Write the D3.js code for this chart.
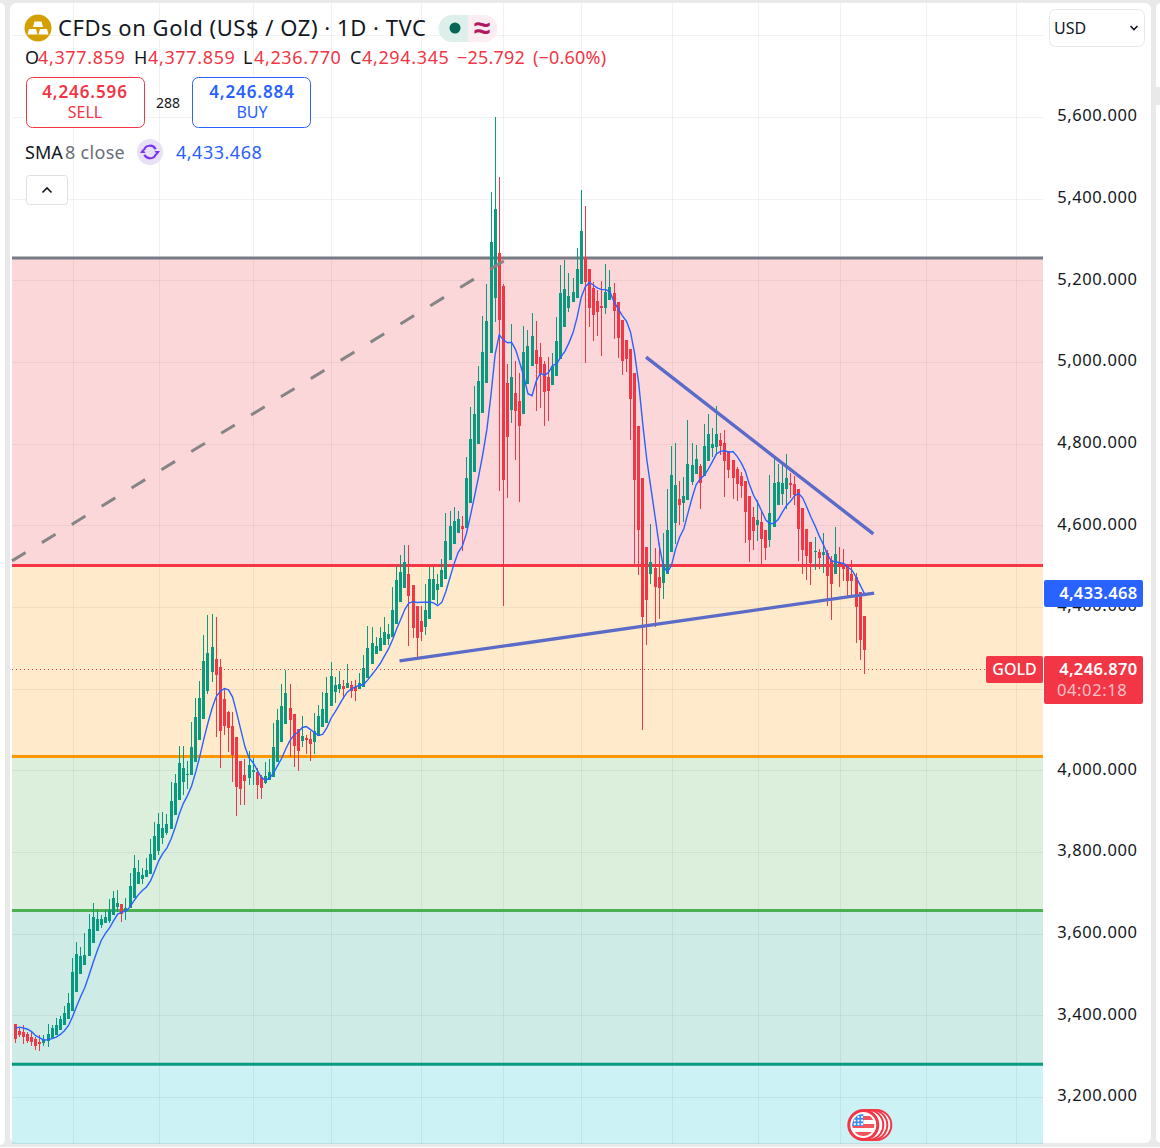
<!DOCTYPE html>
<html>
<head>
<meta charset="utf-8">
<style>
  html, body { margin: 0; padding: 0; background: #e9e9ea; overflow: hidden; }
  svg { display: block; }
  text { font-family: "Noto Sans", sans-serif; }
</style>
<script src="https://cdnjs.cloudflare.com/ajax/libs/d3/7.8.5/d3.min.js"></script>
</head>
<body>
<svg id="chart" width="1160" height="1148"></svg>
<script>
// Daily gold candles, oldest first.
const opens = [
  3379,3362,3359,3354,3347,3342,3335,3333,3336,3344,
  3353,3364,3376,3391,3411,3458,3501,3523,3545,3578,
  3606,3621,3626,3632,3646,3665,3673,3655,3662,3688,
  3722,3734,3739,3746,3780,3802,3834,3846,3856,3891,
  3927,3971,3988,3988,4020,4074,4126,4194,4241,4272,
  4253,4175,4143,4108,4082,4023,3989,3981,3996,3996,
  3984,3969,3976,3984,4020,4069,4113,4153,4138,4101,
  4072,4079,4077,4069,4084,4106,4116,4157,4192,4199,
  4206,4202,4209,4204,4199,4204,4226,4260,4285,4292,
  4307,4322,4327,4358,4412,4447,4481,4454,4402,4366,
  4351,4371,4417,4442,4449,4469,4515,4554,4581,4598,
  4593,4655,4731,4799,4875,4949,5022,5157,5267,5186,
  4949,4882,4924,4904,4872,4946,4990,5029,5012,4995,
  4963,4944,4966,5007,5086,5132,5147,5157,5191,5257,
  5228,5181,5149,5137,5132,5152,5169,5147,5103,5054,
  5032,4973,4843,4716,4547,4481,4496,4474,4459,4481,
  4535,4606,4665,4655,4662,4706,4726,4745,4721,4758,
  4790,4792,4809,4802,4782,4760,4738,4721,4709,4672,
  4620,4601,4608,4589,4564,4596,4650,4677,4689,4704,
  4701,4689,4642,4591,4559,4535,4535,4527,4532,4515,
  4481,4510,4505,4503,4481,4474,4437,4377.859
];
const highs = [
  3379,3372,3376,3360,3360,3346,3352,3352,3379,3376,
  3393,3398,3423,3454,3540,3579,3568,3601,3647,3675,
  3658,3646,3658,3684,3704,3707,3673,3687,3749,3793,
  3780,3762,3785,3833,3873,3895,3898,3893,3971,3992,
  4060,4060,4023,4118,4177,4219,4331,4380,4383,4375,
  4272,4201,4145,4144,4082,4023,4028,4047,4030,4006,
  3989,4020,4028,4116,4150,4211,4246,4211,4138,4101,
  4133,4086,4096,4140,4160,4192,4228,4265,4228,4243,
  4221,4260,4219,4221,4238,4282,4353,4351,4327,4351,
  4375,4358,4449,4500,4527,4552,4552,4454,4402,4402,
  4456,4498,4499,4481,4518,4630,4635,4645,4635,4623,
  4767,4890,4941,4990,5113,5191,5416,5600,5453,5190,
  4995,5093,5002,4973,5088,5078,5120,5100,5046,5002,
  5012,5022,5110,5237,5250,5218,5206,5279,5421,5382,
  5228,5196,5176,5198,5240,5225,5193,5147,5103,5054,
  5032,4973,4843,4716,4547,4603,4545,4557,4581,4689,
  4794,4802,4709,4718,4858,4802,4797,4750,4848,4873,
  4838,4892,4826,4834,4782,4760,4743,4731,4709,4672,
  4646,4662,4638,4589,4723,4765,4750,4753,4775,4728,
  4721,4689,4642,4591,4559,4571,4542,4581,4540,4525,
  4596,4547,4542,4503,4515,4483,4437,4377.859
];
const lows = [
  3333,3346,3330,3333,3326,3315,3313,3326,3323,3344,
  3353,3364,3376,3391,3411,3458,3501,3523,3545,3578,
  3606,3615,3626,3627,3646,3654,3629,3633,3662,3688,
  3722,3722,3739,3746,3780,3793,3820,3842,3856,3891,
  3927,3939,3954,3988,4020,4074,4126,4187,4217,4081,
  4006,4086,4045,3971,3888,3915,3915,3964,3964,3930,
  3930,3967,3976,3984,4020,4069,4113,4033,4008,3998,
  4057,4040,4023,4040,4084,4106,4116,4157,4165,4189,
  4175,4202,4177,4170,4199,4204,4226,4260,4285,4292,
  4307,4307,4327,4358,4412,4447,4304,4324,4275,4317,
  4331,4371,4417,4407,4449,4469,4515,4554,4581,4537,
  4593,4655,4731,4799,4875,4949,5022,5098,4684,4403,
  4667,4851,4760,4657,4872,4946,4990,4880,4887,4843,
  4856,4944,4966,5007,5086,5122,5147,5157,5191,4997,
  5086,5051,5063,5015,5117,5152,5056,5010,4968,4975,
  4809,4505,4478,4099,4307,4456,4351,4371,4420,4481,
  4535,4554,4601,4608,4662,4699,4726,4640,4721,4758,
  4767,4772,4772,4670,4716,4665,4660,4667,4557,4510,
  4540,4562,4505,4515,4547,4596,4650,4650,4640,4667,
  4650,4513,4481,4466,4454,4491,4493,4483,4402,4368,
  4481,4449,4464,4427,4427,4312,4270,4236.77
];
const closes = [
  3342,3352,3347,3337,3335,3326,3331,3343,3354,3370,
  3376,3391,3406,3430,3506,3550,3545,3547,3611,3641,
  3636,3636,3641,3658,3687,3675,3648,3663,3717,3761,
  3751,3744,3756,3795,3839,3869,3859,3869,3925,3969,
  4018,4006,3990,4057,4130,4177,4268,4287,4302,4233,
  4096,4109,4103,4037,3959,3954,3974,4013,4001,3964,
  3957,3986,3996,4057,4123,4157,4189,4123,4060,4047,
  4084,4074,4064,4096,4133,4150,4189,4231,4209,4211,
  4199,4214,4194,4194,4214,4251,4300,4312,4304,4324,
  4339,4334,4393,4466,4486,4510,4427,4349,4324,4339,
  4393,4469,4469,4456,4491,4562,4598,4611,4615,4591,
  4716,4811,4873,4954,5024,5100,5294,5375,5103,4711,
  4816,4963,4880,4843,5024,5039,5064,4995,4970,4926,
  4929,4990,5051,5169,5179,5161,5171,5228,5321,5196,
  5132,5115,5122,5132,5171,5184,5125,5059,5002,5007,
  4909,4711,4589,4376,4417,4510,4449,4447,4505,4589,
  4723,4699,4650,4672,4750,4748,4763,4704,4794,4824,
  4799,4824,4794,4758,4736,4716,4701,4696,4633,4564,
  4586,4613,4567,4544,4630,4704,4706,4704,4716,4699,
  4674,4591,4540,4525,4508,4537,4520,4535,4476,4456,
  4530,4505,4493,4463,4463,4399.262,4320.137,4294.345
];
// Seven closes before the first candle seed the moving average.
const seedCloses = [3328,3363,3361,3383,3406,3371,3390];

const smaLength = 8;
// 4,200 sits behind the last-price tag, so it gets a grid line but no label.
const priceTicks = [3200,3400,3600,3800,4000,4400,4600,4800,5000,5200,5400,5600];
const gridPrices = [3200,3400,3600,3800,4000,4200,4400,4600,4800,5000,5200,5400,5600,5800];
const gridBars = [14,35,58,77,99,119,138,160,181,201,222,244];

// Horizontal levels, top to bottom, and the bands between them.
const levelPrices = [5255,4501.6,4034,3657,3280];
const levelColors = ["#787b86","#f23645","#ff9800","#4caf50","#089981"];
const bandColors = ["#f23645","#ff9800","#4caf50","#089981","#00bcd4"];

// Hand-drawn lines as [bar, price] pairs.
const risingTrend = [[93.7,4268],[209.4,4434]];
const fallingTrend = [[153.8,5012],[209.2,4579]];
const dashedTrend = [[-0.78,4513],[119.5,5250]];

const title = "CFDs on Gold (US$ / OZ) · 1D · TVC";
const sellPrice = 4246.596, buyPrice = 4246.884, spread = "288";
const changeAbs = "−25.792", changePct = "(−0.60%)";
const lastPrice = 4246.87, countdown = "04:02:18";

const red = "#f23645", green = "#089981", blue = "#2962ff", ink = "#131722";
const paneLeft = 12, paneRight = 1043, paneTop = 3, paneBottom = 1144;
const fmt = d3.format(",.3f");

const x = d3.scaleLinear().domain([0, 207]).range([15.2, 864.3]);
const y = d3.scaleLinear().domain([3200, 5600]).range([1097, 117]);

const svg = d3.select("#chart");

// Panels behind the chart
svg.append("rect").attr("x", -8).attr("y", 3).attr("width", 13).attr("height", 1142).attr("rx", 5).attr("fill", "#fff");
svg.append("rect").attr("x", 10).attr("y", 3).attr("width", 1141).attr("height", 1140).attr("rx", 6).attr("fill", "#fff");
svg.append("rect").attr("x", 1156).attr("y", 3).attr("width", 12).attr("height", 1140).attr("rx", 5).attr("fill", "#fff");
svg.append("rect").attr("x", 1156).attr("y", 87).attr("width", 4).attr("height", 18).attr("fill", "#e9e9ea");
svg.append("rect").attr("x", 0).attr("y", 1147).attr("width", 1160).attr("height", 1).attr("fill", "#fff");

// Bands
const bandEdges = [...levelPrices, null];
svg.append("g").selectAll("rect").data(bandColors).join("rect")
  .attr("x", paneLeft).attr("width", paneRight - paneLeft)
  .attr("y", (d, i) => y(levelPrices[i]))
  .attr("height", (d, i) => (bandEdges[i + 1] === null ? paneBottom : y(bandEdges[i + 1])) - y(levelPrices[i]))
  .attr("fill", d => d).attr("fill-opacity", 0.2);

// Grid
const grid = svg.append("g").attr("stroke", "#000").attr("stroke-opacity", 0.055).attr("shape-rendering", "crispEdges");
grid.selectAll("line.h").data(gridPrices).join("line").attr("class", "h")
  .attr("x1", paneLeft).attr("x2", paneRight)
  .attr("y1", d => Math.round(y(d)) + 0.5).attr("y2", d => Math.round(y(d)) + 0.5);
grid.selectAll("line.v").data(gridBars).join("line").attr("class", "v")
  .attr("y1", paneTop).attr("y2", paneBottom)
  .attr("x1", d => Math.round(x(d)) + 0.5).attr("x2", d => Math.round(x(d)) + 0.5);

// Level lines
svg.append("g").selectAll("line").data(levelPrices).join("line")
  .attr("x1", paneLeft).attr("x2", paneRight)
  .attr("y1", d => y(d)).attr("y2", d => y(d))
  .attr("stroke", (d, i) => levelColors[i]).attr("stroke-width", 3);

// Last price dotted line
svg.append("line").attr("x1", paneLeft).attr("x2", 986)
  .attr("y1", y(lastPrice)).attr("y2", y(lastPrice))
  .attr("stroke", red).attr("stroke-width", 1).attr("stroke-dasharray", "1 3");

// Candles
const bars = d3.range(opens.length).map(i => ({ i, o: opens[i], h: highs[i], l: lows[i], c: closes[i] }));
const candles = svg.append("g").attr("shape-rendering", "crispEdges");
candles.selectAll("rect.wick").data(bars).join("rect").attr("class", "wick")
  .attr("x", d => Math.floor(x(d.i)))
  .attr("width", 1)
  .attr("y", d => y(d.h))
  .attr("height", d => y(d.l) - y(d.h))
  .attr("fill", d => d.c >= d.o ? green : red);
candles.selectAll("rect.body").data(bars).join("rect").attr("class", "body")
  .attr("x", d => Math.floor(x(d.i)) - 1)
  .attr("width", 3)
  .attr("y", d => y(Math.max(d.o, d.c)))
  .attr("height", d => Math.max(1, Math.abs(y(d.o) - y(d.c))))
  .attr("fill", d => d.c >= d.o ? green : red);

// Moving average of closes
const allCloses = [...seedCloses, ...closes];
const sma = closes.map((_, i) => d3.mean(allCloses.slice(i, i + smaLength)));
const smaNow = sma[sma.length - 1];
const smaLine = d3.line().x((d, i) => x(i)).y(d => y(d));
svg.append("path").attr("d", smaLine(sma)).attr("fill", "none").attr("stroke", blue).attr("stroke-width", 1.4);

// Trend lines
const trend = d3.line().x(d => x(d[0])).y(d => y(d[1]));
svg.append("path").attr("d", trend(risingTrend)).attr("stroke", "#5b6bc8").attr("stroke-width", 3.4).attr("fill", "none");
svg.append("path").attr("d", trend(fallingTrend)).attr("stroke", "#5b6bc8").attr("stroke-width", 3.4).attr("fill", "none");
svg.append("path").attr("d", trend(dashedTrend)).attr("stroke", "#858585").attr("stroke-width", 3)
  .attr("fill", "none").attr("stroke-dasharray", "16 19");

// Price axis
const axis = d3.axisRight(y).tickValues(priceTicks).tickFormat(fmt).tickSize(0).tickPadding(0);
const axisG = svg.append("g").attr("transform", "translate(1137.5,-1.5)").call(axis);
axisG.select(".domain").remove();
axisG.selectAll("text").attr("text-anchor", "end").attr("x", 0)
  .style("font-family", "'Noto Sans', sans-serif").style("font-size", "16.5px")
  .style("letter-spacing", "0.6px").attr("fill", ink);

function label(str, px, py, size, fill, opts = {}) {
  return svg.append("text").attr("x", px).attr("y", py).text(str)
    .attr("font-size", size).attr("fill", fill)
    .attr("text-anchor", opts.anchor || "start")
    .attr("font-weight", opts.weight || 400)
    .attr("letter-spacing", opts.spacing || 0);
}

// Price tags on the axis
svg.append("rect").attr("x", 1044).attr("y", 580).attr("width", 99).attr("height", 27).attr("rx", 2).attr("fill", blue);
label(fmt(smaNow), 1137.5, 599, 16.5, "#fff", { anchor: "end", weight: 600, spacing: 0.35 });
svg.append("rect").attr("x", 1044).attr("y", 656).attr("width", 99).attr("height", 48).attr("rx", 2).attr("fill", red);
label(fmt(lastPrice), 1137.5, 675, 16.5, "#fff", { anchor: "end", weight: 600, spacing: 0.35 });
label(countdown, 1057, 696, 16.5, "#fbc0c6", { spacing: 0.6 });
svg.append("rect").attr("x", 986).attr("y", 656).attr("width", 57).attr("height", 27).attr("rx", 2).attr("fill", red);
label("GOLD", 1014.5, 675, 16, "#fff", { anchor: "middle", weight: 500 });

// Symbol line
svg.append("circle").attr("cx", 38).attr("cy", 28).attr("r", 13.5).attr("fill", "#d49f00");
[[38, 21.5], [32.5, 29], [43.5, 29]].forEach(([cx, cy]) => {
  svg.append("path").attr("d", `M${cx - 3.5},${cy} h7 l1.5,5.5 h-10 z`).attr("fill", "#fff");
});
label(title, 58, 36, 22, ink, { spacing: 0.54 });
svg.append("path").attr("d", "M468,15 H452 a13.5,13.5 0 0 0 0,27 H468 z").attr("fill", "#dcefeb");
svg.append("path").attr("d", "M468,15 H484 a13.5,13.5 0 0 1 0,27 H468 z").attr("fill", "#fcedf3");
svg.append("circle").attr("cx", 455).attr("cy", 28).attr("r", 5.5).attr("fill", "#056656");
label("≈", 482, 38, 30, "#b0185f", { anchor: "middle", weight: 700 });

// OHLC line
const ohlcRow = 64, last = bars[bars.length - 1];
const rowOpts = { spacing: 0.65 };
label("O", 25, ohlcRow, 18, ink);
label(fmt(last.o), 38, ohlcRow, 18, red, rowOpts);
label("H", 134, ohlcRow, 18, ink);
label(fmt(last.h), 148, ohlcRow, 18, red, rowOpts);
label("L", 243, ohlcRow, 18, ink);
label(fmt(last.l), 254, ohlcRow, 18, red, rowOpts);
label("C", 350, ohlcRow, 18, ink);
label(fmt(last.c), 362, ohlcRow, 18, red, rowOpts);
label(changeAbs, 457, ohlcRow, 18, red, { spacing: 0.2 });
label(changePct, 533, ohlcRow, 18, red, { spacing: 0.2 });

// Sell and buy buttons
svg.append("rect").attr("x", 26.5).attr("y", 77.5).attr("width", 118).attr("height", 50).attr("rx", 6)
  .attr("fill", "#fff").attr("stroke", red);
label(fmt(sellPrice), 85, 98, 17, red, { anchor: "middle", weight: 600, spacing: 0.9 });
label("SELL", 85, 118, 16, red, { anchor: "middle" });
label(spread, 168, 108, 14, ink, { anchor: "middle" });
svg.append("rect").attr("x", 192.5).attr("y", 77.5).attr("width", 118).attr("height", 50).attr("rx", 6)
  .attr("fill", "#fff").attr("stroke", blue);
label(fmt(buyPrice), 252, 98, 17, blue, { anchor: "middle", weight: 600, spacing: 0.9 });
label("BUY", 252, 118, 16, blue, { anchor: "middle" });

// Indicator line
label("SMA", 25, 158.5, 18, ink);
label("8 close", 65, 158.5, 18, "#6a6d78", { spacing: 0.3 });
svg.append("circle").attr("cx", 150).attr("cy", 152).attr("r", 13).attr("fill", "#e8e1f5");
const arcG = d3.arc().innerRadius(5.2).outerRadius(7.4);
const syncIcon = svg.append("g").attr("transform", "translate(150,152)").attr("fill", "#7a35ec");
syncIcon.append("path").attr("d", arcG({ startAngle: -1.3, endAngle: 1.1 }));
syncIcon.append("path").attr("d", arcG({ startAngle: 1.85, endAngle: 4.25 }));
syncIcon.append("path").attr("d", "M4.5,-1 L10,-1 L7.2,3 z");
syncIcon.append("path").attr("d", "M-4.5,1 L-10,1 L-7.2,-3 z");
label(fmt(smaNow), 176, 158.5, 18, blue, { spacing: 0.5 });

// Collapse button
svg.append("rect").attr("x", 26.5).attr("y", 175.5).attr("width", 41).attr("height", 29).attr("rx", 3)
  .attr("fill", "#fff").attr("stroke", "#e0e0e0");
svg.append("path").attr("d", "M42.5,192.5 l4.5,-4.5 l4.5,4.5").attr("fill", "none").attr("stroke", ink).attr("stroke-width", 1.6);

// Currency selector
svg.append("rect").attr("x", 1049.5).attr("y", 9.5).attr("width", 95).attr("height", 37).attr("rx", 6)
  .attr("fill", "#fff").attr("stroke", "#e8e8e8");
label("USD", 1054, 34, 16, ink);
svg.append("path").attr("d", "M1130.5,26 l3.5,3.5 l3.5,-3.5").attr("fill", "none").attr("stroke", ink).attr("stroke-width", 1.6);

// Economic event marker
const flagX = x(207) - 1, flagY = 1125;
[13, 9, 5].forEach(dx => {
  svg.append("circle").attr("cx", flagX + dx).attr("cy", flagY).attr("r", 15).attr("fill", "#fff").attr("stroke", red).attr("stroke-width", 2);
});
svg.append("circle").attr("cx", flagX).attr("cy", flagY).attr("r", 14.5).attr("fill", "#fff").attr("stroke", red).attr("stroke-width", 3);
const clipId = "flag-clip";
svg.append("clipPath").attr("id", clipId).append("circle").attr("cx", flagX).attr("cy", flagY).attr("r", 11);
const flag = svg.append("g").attr("clip-path", `url(#${clipId})`);
[-9, -1, 7].forEach(dy => flag.append("rect").attr("x", flagX - 12).attr("y", flagY + dy).attr("width", 24).attr("height", 4).attr("fill", "#f4525c"));
flag.append("rect").attr("x", flagX - 12).attr("y", flagY - 11).attr("width", 12).attr("height", 12).attr("fill", "#3d8ef0");
d3.range(3).forEach(r => d3.range(3).forEach(c => {
  flag.append("circle").attr("cx", flagX - 8.5 + c * 3.6).attr("cy", flagY - 8 + r * 3.6).attr("r", 1.1).attr("fill", "#fff");
}));
</script>
</body>
</html>
